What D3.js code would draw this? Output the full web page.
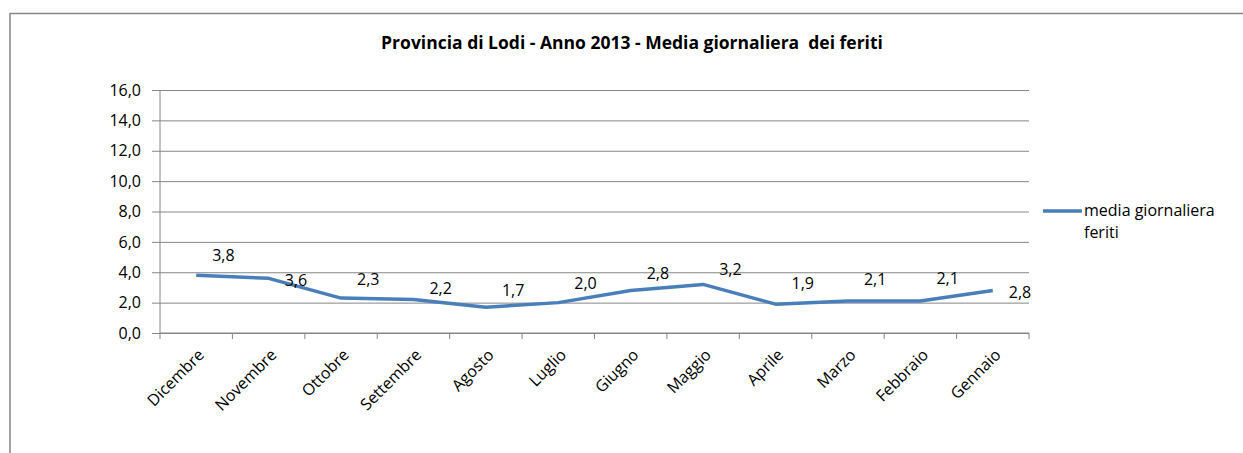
<!DOCTYPE html>
<html lang="it">
<head>
<meta charset="utf-8">
<title>Provincia di Lodi - Media giornaliera dei feriti</title>
<script src="https://d3js.org/d3.v7.min.js"></script>
<style>
  body { margin: 0; background: #fff; }
  text { font-family: "Open Sans", "Noto Sans", sans-serif; fill: #000; }
</style>
</head>
<body>
<div id="chart"></div>
<script>
// data
var mesi = ["Dicembre", "Novembre", "Ottobre", "Settembre", "Agosto", "Luglio",
            "Giugno", "Maggio", "Aprile", "Marzo", "Febbraio", "Gennaio"];
var media = [3.8, 3.6, 2.3, 2.2, 1.7, 2.0, 2.8, 3.2, 1.9, 2.1, 2.1, 2.8];
var yTicks = [0, 2, 4, 6, 8, 10, 12, 14, 16];
var titolo = "Provincia di Lodi - Anno 2013 - Media giornaliera  dei feriti";
var serieNome = ["media giornaliera", "feriti"];

// label offsets as they sit in the original (px, relative to point)
var labelDy = [-20, 2, -19, -11, -17, -19, -17, -15, -21, -22, -23, 2];

var W = 1243, H = 453;
var margin = {top: 90, left: 160, right: W - 1029, bottom: H - 333};
var width = W - margin.left - margin.right,
    height = H - margin.top - margin.bottom;
var fs = "16px";

var svg = d3.select("#chart").append("svg")
    .attr("width", W).attr("height", H);

// outer border of chart area
svg.append("rect")
    .attr("x", 10).attr("y", 13.5)
    .attr("width", W + 20).attr("height", H + 20)
    .attr("fill", "none").attr("stroke", "#878787").attr("stroke-width", 1.5);

svg.append("text")
    .attr("x", 632).attr("y", 49)
    .attr("text-anchor", "middle")
    .style("font-weight", "bold").style("font-size", "17.5px")
    .style("white-space", "pre")
    .text(titolo);

var g = svg.append("g").attr("transform", "translate(" + margin.left + "," + margin.top + ")");

var x = d3.scaleBand().domain(mesi).range([0, width]);
var y = d3.scaleLinear().domain([0, 16]).range([height, 0]);

// gridlines + y ticks
var yAxis = g.append("g")
    .call(d3.axisLeft(y).tickValues(yTicks).tickSize(-width - 8).tickPadding(11)
      .tickFormat(function(d) { return d3.format(".1f")(d).replace(".", ","); }))
    .attr("transform", "translate(-8,0)");
yAxis.select(".domain").remove();
yAxis.selectAll(".tick line").attr("stroke", "#868686").attr("x1", 0).attr("x2", width + 8);
yAxis.selectAll(".tick text").style("font-size", fs).attr("x", -11);

g.append("line")
    .attr("x1", 0).attr("x2", 0).attr("y1", 0).attr("y2", height)
    .attr("stroke", "#868686");

// x axis with ticks at band boundaries
var xg = g.append("g").attr("transform", "translate(0," + height + ")");
xg.append("line").attr("x1", 0).attr("x2", width).attr("stroke", "#868686");
xg.selectAll(".bt").data(d3.range(mesi.length + 1)).enter().append("line")
    .attr("x1", function(i) { return i * x.step(); })
    .attr("x2", function(i) { return i * x.step(); })
    .attr("y1", 0).attr("y2", 6)
    .attr("stroke", "#868686");
xg.selectAll(".lbl").data(mesi).enter().append("text")
    .attr("transform", function(d) {
      return "translate(" + (x(d) + x.bandwidth() / 2 + 1) + ",15) rotate(-45)";
    })
    .attr("text-anchor", "end")
    .attr("dy", "0.7em")
    .style("font-size", fs)
    .text(function(d) { return d; });

// line
var line = d3.line()
    .x(function(d, i) { return x(mesi[i]) + x.bandwidth() / 2; })
    .y(function(d) { return y(d); });

g.append("path")
    .datum(media)
    .attr("fill", "none")
    .attr("stroke", "#4A7EBB")
    .attr("stroke-width", 3.5)
    .attr("stroke-linejoin", "round")
    .attr("d", line);

// data labels
g.selectAll(".dl").data(media).enter().append("text")
    .attr("x", function(d, i) { return x(mesi[i]) + x.bandwidth() / 2 + 16; })
    .attr("y", function(d, i) { return y(d) + labelDy[i]; })
    .attr("dy", "0.35em")
    .style("font-size", fs)
    .text(function(d) { return d3.format(".1f")(d).replace(".", ","); });

// legend
var leg = svg.append("g").attr("transform", "translate(1043,211)");
leg.append("line").attr("x1", 0).attr("x2", 39)
    .attr("stroke", "#4A7EBB").attr("stroke-width", 3.5);
leg.selectAll("text").data(serieNome).enter().append("text")
    .attr("x", 41)
    .attr("y", function(d, i) { return 5 + i * 22; })
    .style("font-size", fs)
    .text(function(d) { return d; });
</script>
</body>
</html>
